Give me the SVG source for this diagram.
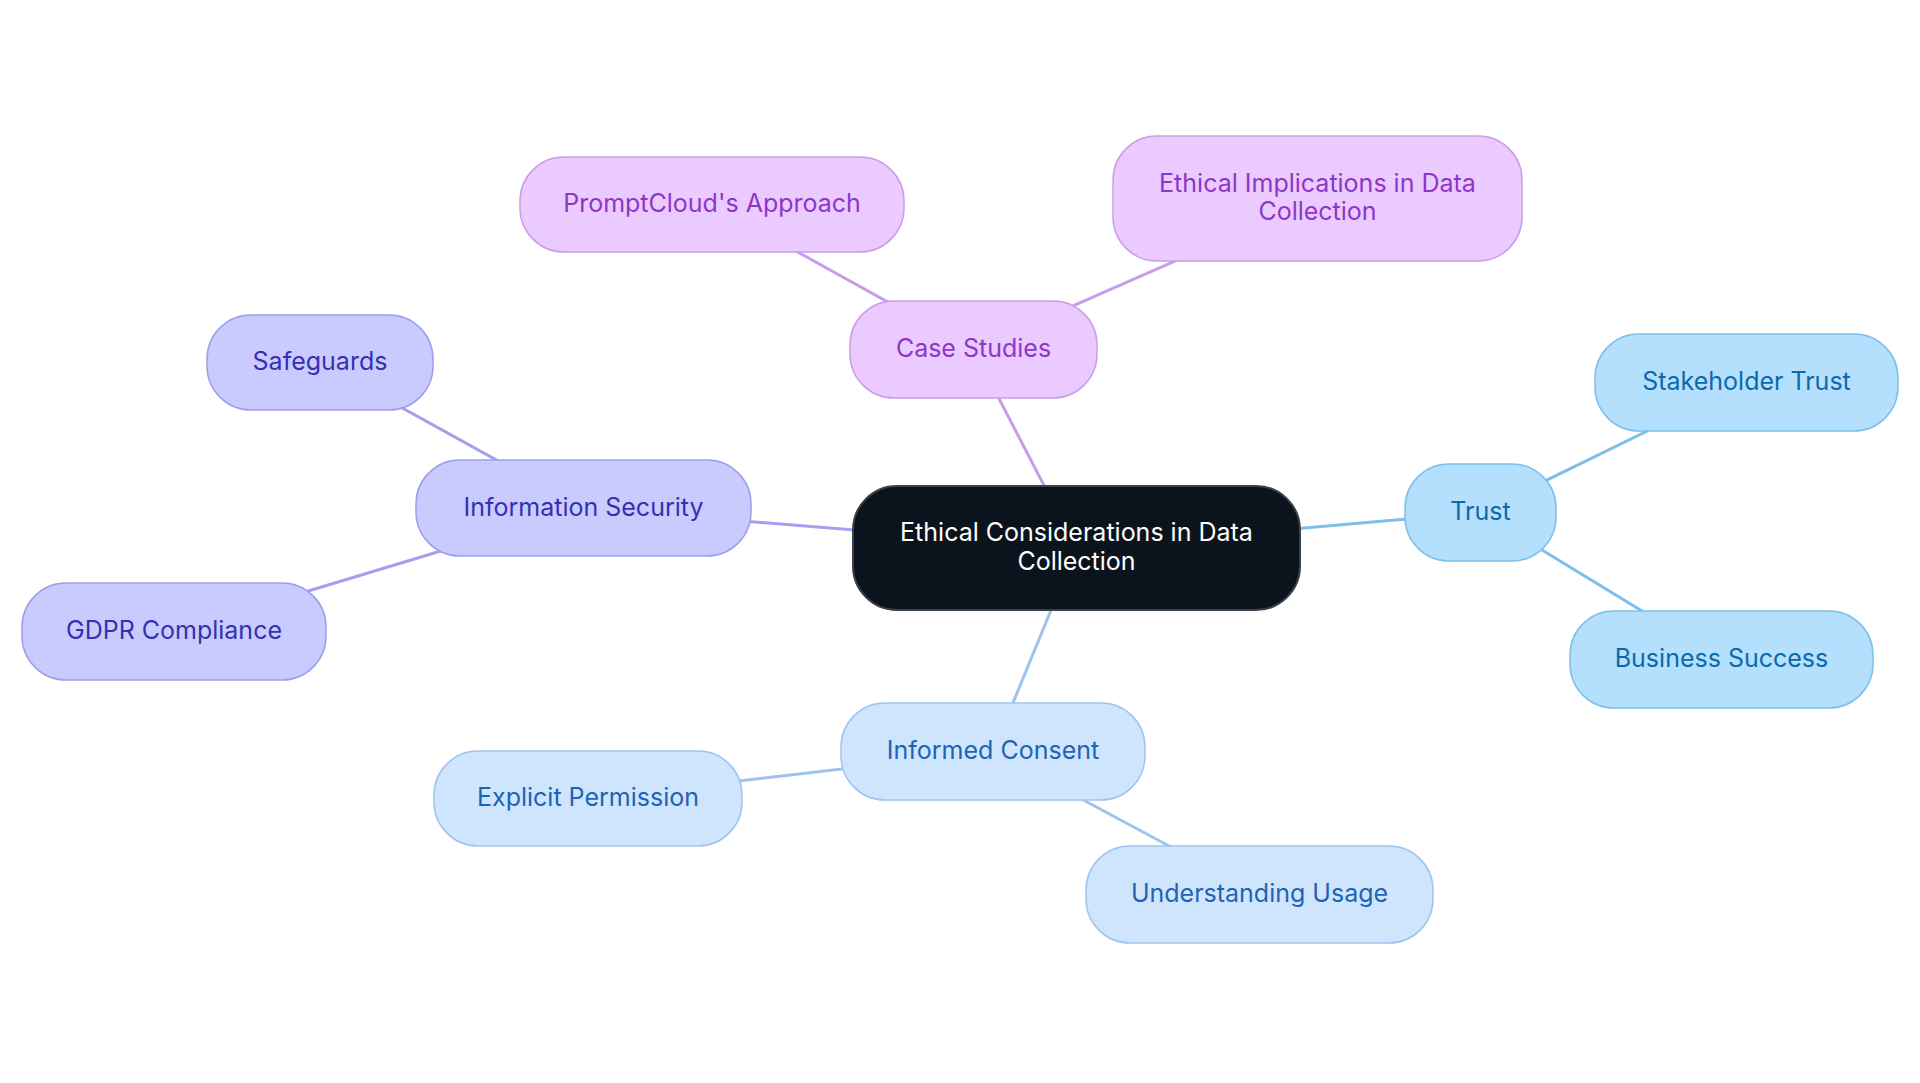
<svg xmlns="http://www.w3.org/2000/svg" width="1920" height="1083" viewBox="0 0 1920 1083">
<style>
text{font-family:Inter,"Noto Sans",sans-serif;font-size:25px;text-anchor:middle}
.edge{stroke-width:3;fill:none;stroke-linecap:round}
.pe{stroke:#c69deb}.ie{stroke:#a3a1ec}.se{stroke:#7fbfea}.be{stroke:#9fc3ec}
.root rect{fill:#0b141c;stroke:#3a4047;stroke-width:2}
.root text{fill:#ffffff}
.p rect{fill:#eacaff;stroke:#cb9deb;stroke-width:1.5}.p text{fill:#8e36c8}
.i rect{fill:#c9cbff;stroke:#9d9fea;stroke-width:1.5}.i text{fill:#3431b0}
.s rect{fill:#b4dffd;stroke:#7ec0ea;stroke-width:1.5}.s text{fill:#0b6aab}
.b rect{fill:#cfe4fd;stroke:#9fc5ee;stroke-width:1.5}.b text{fill:#1d64b4}
</style>
<rect width="1920" height="1083" fill="#ffffff"/>
<g id="connectors">
<line class="edge pe" x1="1076.5" y1="548" x2="973.5" y2="349.5"/>
<line class="edge pe" x1="973.5" y1="349.5" x2="712" y2="204.5"/>
<line class="edge pe" x1="973.5" y1="349.5" x2="1317.5" y2="198.5"/>
<line class="edge ie" x1="1076.5" y1="548" x2="583.5" y2="508"/>
<line class="edge ie" x1="583.5" y1="508" x2="320" y2="362.5"/>
<line class="edge ie" x1="583.5" y1="508" x2="174" y2="631.5"/>
<line class="edge se" x1="1076.5" y1="548" x2="1480.5" y2="512.5"/>
<line class="edge se" x1="1480.5" y1="512.5" x2="1746.5" y2="382.5"/>
<line class="edge se" x1="1480.5" y1="512.5" x2="1721.5" y2="659.5"/>
<line class="edge be" x1="1076.5" y1="548" x2="993" y2="751.5"/>
<line class="edge be" x1="993" y1="751.5" x2="588" y2="798.5"/>
<line class="edge be" x1="993" y1="751.5" x2="1259.5" y2="894.5"/>
</g>
<g id="root" class="root">
<rect x="853" y="486" width="447" height="124" rx="44"/>
<text x="1076.5" y="540.5">Ethical Considerations in Data</text>
<text x="1076.5" y="569.5">Collection</text>
</g>
<g id="case-studies" class="p">
<rect x="850" y="301" width="247" height="97" rx="44"/>
<text x="973.5" y="357">Case Studies</text>
</g>
<g id="promptcloud" class="p">
<rect x="520" y="157" width="384" height="95" rx="44"/>
<text x="712" y="212">PromptCloud's Approach</text>
</g>
<g id="ethical-implications" class="p">
<rect x="1113" y="136" width="409" height="125" rx="44"/>
<text x="1317.5" y="191.5">Ethical Implications in Data</text>
<text x="1317.5" y="220">Collection</text>
</g>
<g id="information-security" class="i">
<rect x="416" y="460" width="335" height="96" rx="44"/>
<text x="583.5" y="516">Information Security</text>
</g>
<g id="safeguards" class="i">
<rect x="207" y="315" width="226" height="95" rx="44"/>
<text x="320" y="370">Safeguards</text>
</g>
<g id="gdpr" class="i">
<rect x="22" y="583" width="304" height="97" rx="44"/>
<text x="174" y="639">GDPR Compliance</text>
</g>
<g id="trust" class="s">
<rect x="1405" y="464" width="151" height="97" rx="44"/>
<text x="1480.5" y="520">Trust</text>
</g>
<g id="stakeholder-trust" class="s">
<rect x="1595" y="334" width="303" height="97" rx="44"/>
<text x="1746.5" y="390">Stakeholder Trust</text>
</g>
<g id="business-success" class="s">
<rect x="1570" y="611" width="303" height="97" rx="44"/>
<text x="1721.5" y="667">Business Success</text>
</g>
<g id="informed-consent" class="b">
<rect x="841" y="703" width="304" height="97" rx="44"/>
<text x="993" y="759">Informed Consent</text>
</g>
<g id="explicit-permission" class="b">
<rect x="434" y="751" width="308" height="95" rx="44"/>
<text x="588" y="806">Explicit Permission</text>
</g>
<g id="understanding-usage" class="b">
<rect x="1086" y="846" width="347" height="97" rx="44"/>
<text x="1259.5" y="902">Understanding Usage</text>
</g>
</svg>
